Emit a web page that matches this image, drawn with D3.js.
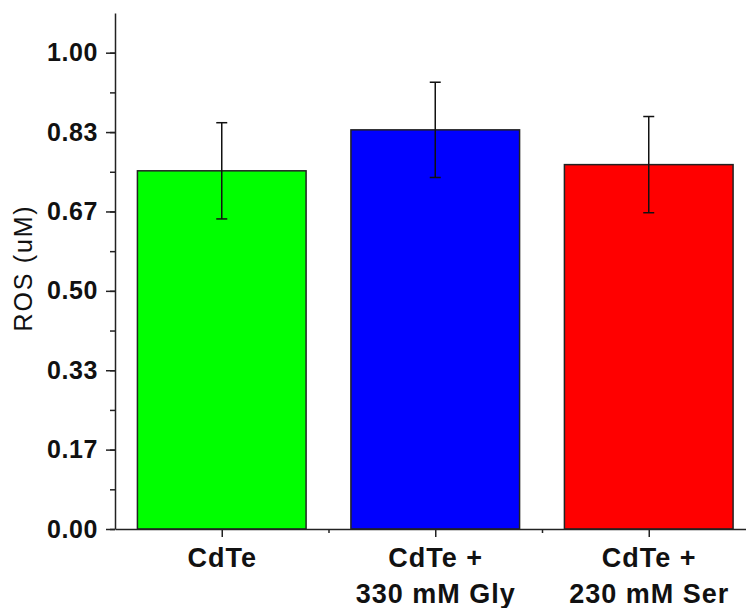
<!DOCTYPE html>
<html>
<head>
<meta charset="utf-8">
<script src="https://cdn.jsdelivr.net/npm/d3@7"></script>
<style>
  body { margin: 0; background: #fff; }
  text { font-family: "Liberation Sans", Arial, sans-serif; }
</style>
</head>
<body>
<div id="chart"></div>
<script>
// data
var groups = ["CdTe", "CdTe + 330 mM Gly", "CdTe + 230 mM Ser"];
var labelLines = [["CdTe"], ["CdTe +", "330 mM Gly"], ["CdTe +", "230 mM Ser"]];
var rosValues = [0.752, 0.838, 0.765];
var rosErrors = [0.101, 0.100, 0.101];
var barColors = ["#00ff00", "#0000ff", "#ff0000"];
var yTickValues = [0, 1/6, 2/6, 3/6, 4/6, 5/6, 1];
var yTickLabels = ["0.00", "0.17", "0.33", "0.50", "0.67", "0.83", "1.00"];

var svgWidth = 746;
var svgHeight = 608;

var margin = { top: 13, left: 115, bottom: 79 };
var plotHeight = svgHeight - margin.top - margin.bottom;

var svg = d3.select("#chart")
  .append("svg")
  .attr("width", svgWidth)
  .attr("height", svgHeight);

// x axis runs a bit past the right edge of the picture
var xScale = d3.scaleLinear()
  .domain([0.5, 3.5])
  .range([margin.left, margin.left + 3 * 213.5]);

var yScale = d3.scaleLinear()
  .domain([0, 13 / 12])
  .range([margin.top + plotHeight, margin.top]);

var barWidth = 0.79;

// bars
svg.selectAll("rect.bar")
  .data(rosValues)
  .enter()
  .append("rect")
  .attr("class", "bar")
  .attr("x", (d, i) => xScale(i + 1 - barWidth / 2))
  .attr("y", d => yScale(d))
  .attr("width", xScale(1 + barWidth / 2) - xScale(1 - barWidth / 2))
  .attr("height", d => yScale(0) - yScale(d))
  .style("fill", (d, i) => barColors[i])
  .style("stroke", "#222")
  .style("stroke-width", 1.5);

// error bars
var err = svg.selectAll("g.err")
  .data(rosValues)
  .enter()
  .append("g")
  .attr("class", "err")
  .style("stroke", "#111")
  .style("stroke-width", 1.5);

err.append("line")
  .attr("x1", (d, i) => xScale(i + 1))
  .attr("x2", (d, i) => xScale(i + 1))
  .attr("y1", (d, i) => yScale(d + rosErrors[i]))
  .attr("y2", (d, i) => yScale(d - rosErrors[i]));

[1, -1].forEach(function(sign) {
  err.append("line")
    .attr("x1", (d, i) => xScale(i + 1) - 5.5)
    .attr("x2", (d, i) => xScale(i + 1) + 5.5)
    .attr("y1", (d, i) => yScale(d + sign * rosErrors[i]))
    .attr("y2", (d, i) => yScale(d + sign * rosErrors[i]));
});

// y axis: minor ticks first, then major with labels
var yMinor = d3.range(13).map(k => k / 12);
svg.append("g")
  .attr("transform", `translate(${margin.left},0)`)
  .call(d3.axisLeft(yScale).tickValues(yMinor).tickSize(5).tickFormat(""))
  .call(g => g.select(".domain").remove());

var yAxis = svg.append("g")
  .attr("transform", `translate(${margin.left},0)`)
  .call(d3.axisLeft(yScale)
    .tickValues(yTickValues)
    .tickSize(9)
    .tickSizeOuter(0)
    .tickPadding(8)
    .tickFormat((d, i) => yTickLabels[i]));

yAxis.selectAll("text")
  .style("font-size", "25px")
  .style("font-weight", "bold")
  .style("letter-spacing", "0.6px")
  .attr("fill", "#111");

// x axis
var xMinor = [1.5, 2.5];
svg.append("g")
  .attr("transform", `translate(0,${yScale(0)})`)
  .call(d3.axisBottom(xScale).tickValues(xMinor).tickSize(4).tickFormat(""))
  .call(g => g.select(".domain").remove());

var xAxis = svg.append("g")
  .attr("transform", `translate(0,${yScale(0)})`)
  .call(d3.axisBottom(xScale).tickValues([1, 2, 3]).tickSize(8).tickSizeOuter(0).tickFormat(""));

svg.selectAll(".domain, .tick line")
  .style("stroke", "#222")
  .style("stroke-width", 1.5);

// x category labels, one or two lines each
var xLab = svg.selectAll("text.xlab")
  .data(labelLines)
  .enter()
  .append("text")
  .attr("class", "xlab")
  .attr("text-anchor", "middle")
  .attr("fill", "#111")
  .style("font-size", "27px")
  .style("font-weight", "bold")
  .style("letter-spacing", "1px");

xLab.selectAll("tspan")
  .data((d, i) => d.map(t => ({ t: t, i: i })))
  .enter()
  .append("tspan")
  .attr("x", d => xScale(d.i + 1) + 0.5)
  .attr("y", (d, j) => 567 + j * 36)
  .text(d => d.t);

// y axis title
svg.append("text")
  .attr("transform", "rotate(-90)")
  .attr("x", -268)
  .attr("y", 32)
  .attr("text-anchor", "middle")
  .attr("fill", "#111")
  .style("font-size", "25px")
  .style("letter-spacing", "1.8px")
  .text("ROS (uM)");
</script>
</body>
</html>
